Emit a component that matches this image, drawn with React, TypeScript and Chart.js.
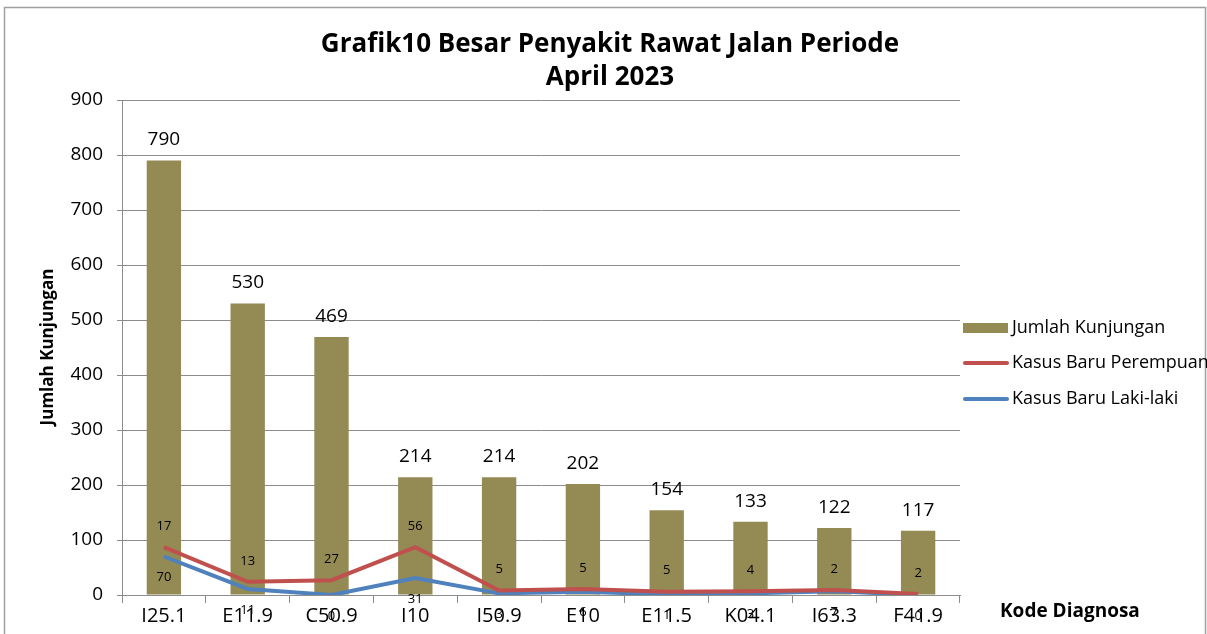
import React, { useEffect, useRef } from "react";
import { Chart, registerables } from "chart.js";
Chart.register(...registerables);

const categories = ["I25.1", "E11.9", "C50.9", "I10", "I50.9", "E10", "E11.5", "K04.1", "I63.3", "F41.9"];
const jumlahKunjungan = [790, 530, 469, 214, 214, 202, 154, 133, 122, 117];
const kasusPerempuan = [17, 13, 27, 56, 5, 5, 5, 4, 2, 2];
const kasusLakiLaki = [70, 11, 0, 31, 3, 6, 1, 3, 7, 0];
const titleLines = ["Grafik10 Besar Penyakit Rawat Jalan Periode", "April 2023"];
const seriesNames = ["Jumlah Kunjungan", "Kasus Baru Perempuan", "Kasus Baru Laki-laki"];

const BAR = "#948A54";
const RED = "#C0504D";
const BLUE = "#4F81BD";
const GRID = "#8c8c8c";
const FONT = "'Open Sans', 'DejaVu Sans', sans-serif";

// red line is drawn stacked on top of the blue line (as in the reference)
const perempuanStacked = kasusPerempuan.map((v, i) => v + kasusLakiLaki[i]);

const decorPlugin = {
  id: "decor",
  beforeDraw(chart: any) {
    const ctx = chart.ctx;
    ctx.save();
    ctx.fillStyle = "#fff";
    ctx.fillRect(0, 0, chart.width, chart.height);
    ctx.strokeStyle = "#a0a0a0";
    ctx.lineWidth = 1.5;
    ctx.strokeRect(4.5, 7.5, 1201, 700);
    ctx.restore();
  },
  afterDraw(chart: any) {
    const ctx = chart.ctx;
    ctx.save();
    // title
    ctx.fillStyle = "#000";
    ctx.textAlign = "center";
    ctx.textBaseline = "middle";
    ctx.font = `bold 26px ${FONT}`;
    ctx.fillText(titleLines[0], 610, 45);
    ctx.fillText(titleLines[1], 610, 78);
    // y title
    ctx.save();
    ctx.translate(48, 347);
    ctx.rotate(-Math.PI / 2);
    ctx.font = `bold 17px ${FONT}`;
    ctx.fillText("Jumlah Kunjungan", 0, 0);
    ctx.restore();
    // x title
    ctx.textAlign = "left";
    ctx.font = `bold 19px ${FONT}`;
    ctx.fillText("Kode Diagnosa", 1000, 612);
    // legend
    ctx.font = `18px ${FONT}`;
    ctx.fillStyle = BAR;
    ctx.fillRect(963, 323, 45, 10);
    ctx.lineWidth = 4;
    ctx.lineCap = "round";
    ctx.strokeStyle = RED;
    ctx.beginPath();
    ctx.moveTo(965, 363);
    ctx.lineTo(1007, 363);
    ctx.stroke();
    ctx.strokeStyle = BLUE;
    ctx.beginPath();
    ctx.moveTo(965, 399);
    ctx.lineTo(1007, 399);
    ctx.stroke();
    ctx.fillStyle = "#000";
    ctx.fillText(seriesNames[0], 1012, 328);
    ctx.fillText(seriesNames[1], 1012, 363);
    ctx.fillText(seriesNames[2], 1012, 399);

    // data labels
    ctx.textAlign = "center";
    const barMeta = chart.getDatasetMeta(0);
    ctx.font = `19px ${FONT}`;
    barMeta.data.forEach((el: any, i: number) => {
      ctx.textBaseline = "bottom";
      ctx.fillText(String(jumlahKunjungan[i]), el.x, el.y - 11);
    });
    ctx.textBaseline = "middle";
    ctx.font = `13px ${FONT}`;
    chart.getDatasetMeta(1).data.forEach((el: any, i: number) => {
      ctx.fillText(String(kasusPerempuan[i]), el.x, el.y - 21);
    });
    chart.getDatasetMeta(2).data.forEach((el: any, i: number) => {
      ctx.fillText(String(kasusLakiLaki[i]), el.x, el.y + 21);
    });
    ctx.restore();
  },
};

export default function App() {
  const ref = useRef<HTMLCanvasElement | null>(null);
  useEffect(() => {
    if (!ref.current) return;
    const chart = new Chart(ref.current, {
      type: "bar",
      data: {
        labels: categories,
        datasets: [
          {
            type: "bar",
            label: seriesNames[0],
            data: jumlahKunjungan,
            backgroundColor: BAR,
            barPercentage: 0.41,
            categoryPercentage: 1,
            order: 3,
          },
          {
            type: "line",
            label: seriesNames[1],
            data: perempuanStacked,
            borderColor: RED,
            borderWidth: 4,
            pointRadius: 0,
            tension: 0,
            order: 1,
          } as any,
          {
            type: "line",
            label: seriesNames[2],
            data: kasusLakiLaki,
            borderColor: BLUE,
            borderWidth: 4,
            pointRadius: 0,
            tension: 0,
            order: 2,
          } as any,
        ],
      },
      options: {
        responsive: false,
        animation: false,
        layout: { padding: { top: 100, right: 247, left: 0, bottom: 0 } },
        plugins: { legend: { display: false }, title: { display: false }, tooltip: { enabled: false } },
        scales: {
          x: {
            offset: true,
            grid: { offset: true, drawOnChartArea: false, drawTicks: true, tickLength: 8, color: GRID },
            border: { color: GRID, width: 1 },
            ticks: { color: "#000", font: { family: FONT, size: 20 }, padding: 1, maxRotation: 0, autoSkip: false },
            afterFit: (s: any) => { s.height = 39; },
          },
          y: {
            min: 0,
            max: 900,
            ticks: { stepSize: 100, color: "#000", font: { family: FONT, size: 19 }, padding: 14 },
            grid: { color: GRID, tickLength: 5 },
            border: { color: GRID, width: 1 },
            afterFit: (s: any) => { s.width = 122; },
          },
        },
      },
      plugins: [decorPlugin],
    });
    return () => chart.destroy();
  }, []);
  return (
    <div style={{ position: "absolute", left: 0, top: 0, width: 1207, height: 634, background: "#fff" }}>
      <canvas ref={ref} width={1207} height={634} style={{ display: "block" }} />
    </div>
  );
}
